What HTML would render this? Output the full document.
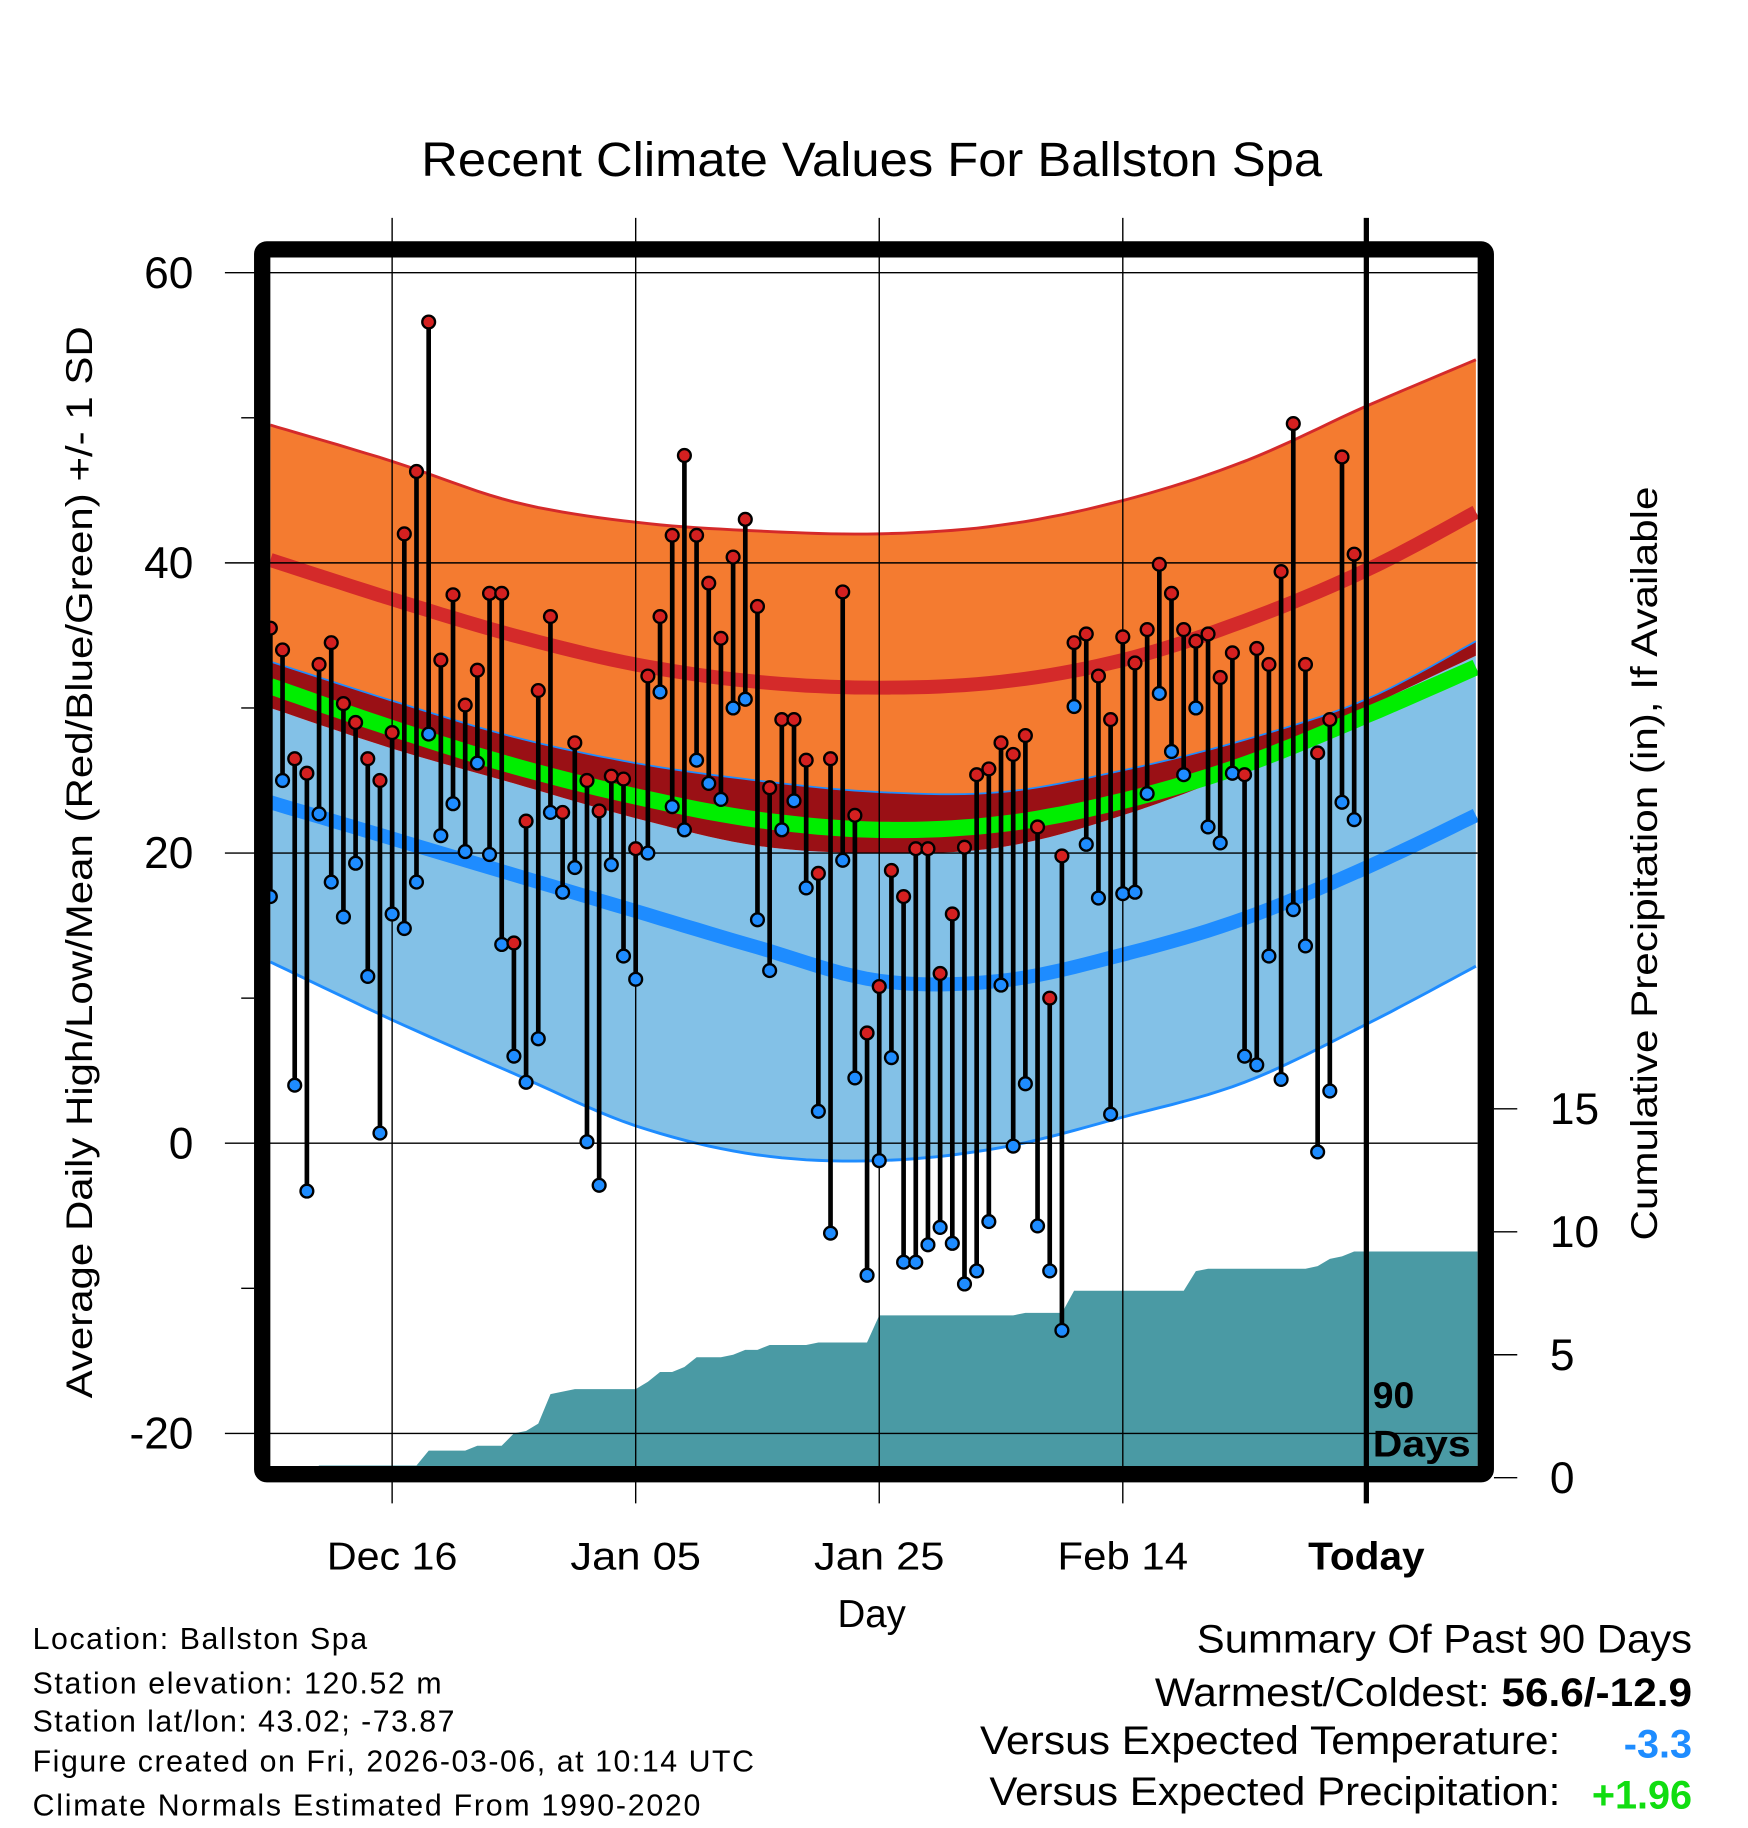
<!DOCTYPE html>
<html><head><meta charset="utf-8"><style>
html,body{margin:0;padding:0;background:#fff;}
svg{display:block;font-family:"Liberation Sans",Arial,sans-serif;}
</style></head><body>
<svg id="chart" width="1748" height="1828" viewBox="0 0 1500 1568.6" preserveAspectRatio="none" xmlns="http://www.w3.org/2000/svg">
<text x="748" y="151" font-size="41" text-anchor="middle" textLength="773" lengthAdjust="spacingAndGlyphs">Recent Climate Values For Ballston Spa</text>
<g id="layers"></g>
</svg>
<script>
// ---- data ----
const highs=[35.5,34,26.5,25.5,33,34.5,30.3,29,26.5,25,28.3,42,46.3,56.6,33.3,37.8,30.2,32.6,37.9,37.9,13.8,22.2,31.2,36.3,22.8,27.6,25,22.9,25.3,25.1,20.3,32.2,36.3,41.9,47.4,41.9,38.6,34.8,40.4,43,37,24.5,29.2,29.2,26.4,18.6,26.5,38,22.6,7.6,10.8,18.8,17,20.3,20.3,11.7,15.8,20.4,25.4,25.8,27.6,26.8,28.1,21.8,10,19.8,34.5,35.1,32.2,29.2,34.9,33.1,35.4,39.9,37.9,35.4,34.6,35.1,32.1,33.8,25.4,34.1,33,39.4,49.6,33,26.9,29.2,47.3,40.6];
const lows=[17,25,4,-3.3,22.7,18,15.6,19.3,11.5,0.7,15.8,14.8,18,28.2,21.2,23.4,20.1,26.2,19.9,13.7,6,4.2,7.2,22.8,17.3,19,0.1,-2.9,19.2,12.9,11.3,20,31.1,23.2,21.6,26.4,24.8,23.7,30,30.6,15.4,11.9,21.6,23.6,17.6,2.2,-6.2,19.5,4.5,-9.1,-1.2,5.9,-8.2,-8.2,-7,-5.8,-6.9,-9.7,-8.8,-5.4,10.9,-0.2,4.1,-5.7,-8.8,-12.9,30.1,20.6,16.9,2,17.2,17.3,24.1,31,27,25.4,30,21.8,20.7,25.5,6,5.4,12.9,4.4,16.1,13.6,-0.6,3.6,23.5,22.3];
const precip=[0,0,0,0,0.5,0.5,0.5,0.5,0.5,0.5,0.5,0.5,0.5,1.1,1.1,1.1,1.1,1.3,1.3,1.3,1.8,1.9,2.2,3.4,3.5,3.6,3.6,3.6,3.6,3.6,3.6,3.9,4.3,4.3,4.5,4.9,4.9,4.9,5.0,5.2,5.2,5.4,5.4,5.4,5.4,5.5,5.5,5.5,5.5,5.5,6.6,6.6,6.6,6.6,6.6,6.6,6.6,6.6,6.6,6.6,6.6,6.6,6.7,6.7,6.7,6.7,7.6,7.6,7.6,7.6,7.6,7.6,7.6,7.6,7.6,7.6,8.4,8.5,8.5,8.5,8.5,8.5,8.5,8.5,8.5,8.5,8.6,8.9,9.0,9.2];
const normDays=[0,10,20,30,40,50,60,70,80,90,99];
const highPlusSD=[49.5,47,44.2,42.8,42.2,42,42.6,44.3,47,50.8,54];
const highMean=[40.2,37.5,35,33,31.8,31.4,31.8,33.3,36,39.5,43.5];
const highMinusSD=[33.2,30.5,28,26.2,25,24.2,24.2,25.7,27.8,30.6,34.6];
const meanTemp=[31.5,28.6,26,23.9,22.3,21.6,22,23.6,26.1,29.5,32.8];
const lowPlusSD=[30,27.2,24.8,22.4,20.5,20,20.4,22.6,25.8,30,33.6];
const lowMean=[23.5,21,18.5,16,13.5,11.2,11.2,13,15.5,19,22.6];
const lowMinusSD=[12.5,8.5,4.8,1.2,-0.8,-1.2,-0.3,1.8,4.2,8.2,12.2];
const yTicks=[60,40,20,0,-20];
const yMinor=[50,30,10,-10];
const pTicks=[0,5,10,15];
const dateTicks=[10,30,50,70,90];
const dateLabels=["Dec 16","Jan 05","Jan 25","Feb 14","Today"];

// ---- axes ----
const X0=232, DX=10.45, PL=232, PR=1268, PT=221, PB=1259;
const x=d=>X0+d*DX;
const y=v=>981-v*12.45;
const yp=v=>1268-v*21.1;
const NS='http://www.w3.org/2000/svg';
const L=document.getElementById('layers');
function mk(tag,attrs,parent){const e=document.createElementNS(NS,tag);for(const k in attrs)e.setAttribute(k,attrs[k]);(parent||L).appendChild(e);return e;}

const defs=mk('defs',{});
const cp=mk('clipPath',{id:'pc'},defs);
mk('rect',{x:PL,y:PT,width:PR-PL,height:PB-PT},cp);
const G=mk('g',{'clip-path':'url(#pc)'});



function curvePts(arr){const p=normDays.map((d,i)=>[x(d),y(arr[i])]);
 const out=[];for(let i=0;i<p.length-1;i++){const p0=p[Math.max(0,i-1)],p1=p[i],p2=p[i+1],p3=p[Math.min(p.length-1,i+2)];
 for(let t=0;t<1;t+=0.1){const t2=t*t,t3=t2*t;
 out.push([0.5*(2*p1[0]+(-p0[0]+p2[0])*t+(2*p0[0]-5*p1[0]+4*p2[0]-p3[0])*t2+(-p0[0]+3*p1[0]-3*p2[0]+p3[0])*t3),
 0.5*(2*p1[1]+(-p0[1]+p2[1])*t+(2*p0[1]-5*p1[1]+4*p2[1]-p3[1])*t2+(-p0[1]+3*p1[1]-3*p2[1]+p3[1])*t3)]);}}
 out.push(p[p.length-1]);return out;}
const ps=a=>a.map(q=>q[0].toFixed(1)+','+q[1].toFixed(1)).join(' ');
function band(top,bot,fill,name){const t=curvePts(top),b=curvePts(bot).reverse();
 const e=mk('polygon',{points:ps(t.concat(b)),fill:fill},G);
 
 return e;}
function line(arr,color,w,name){const e=mk('polyline',{points:ps(curvePts(arr)),fill:'none',stroke:color,'stroke-width':w},G);
 
 return e;}

(function(){const pts=precip.map((v,i)=>[x(i),yp(v)]);pts.push([PR,yp(precip[precip.length-1])]);
 const all=[[x(0),yp(0)+20]].concat(pts).concat([[PR,yp(0)+20]]);
 const e=mk('polygon',{points:ps(all),fill:'#4a9aa4'},G);
 
 })();

band(highPlusSD,highMinusSD,'#f47b30','high-sd-band');
band(lowPlusSD,lowMinusSD,'#83c1e7','low-sd-band');
band(highMinusSD,lowPlusSD,'#9a1015','overlap-band');
line(highPlusSD,'#d42a2a',2.5,'high-plus-sd-line');
line(lowMinusSD,'#1e8cff',2.5,'low-minus-sd-line');
line(highMinusSD,'#1e8cff',1.5,'high-minus-sd-edge');
line(meanTemp,'#00ee00',14,'mean-temp-line');
line(highMean,'#d42a2a',12,'high-mean-line');
line(lowMean,'#1e8cff',12,'low-mean-line');

yTicks.forEach(v=>{const e=mk('line',{x1:193,x2:PR,y1:y(v),y2:y(v),stroke:'#000','stroke-width':1.2});
 
 
 const t=mk('text',{x:166,y:y(v)+13,'font-size':38,'text-anchor':'end'});t.textContent=v;
 
 });
yMinor.forEach(v=>{const e=mk('line',{x1:207,x2:218,y1:y(v),y2:y(v),stroke:'#000','stroke-width':1.2});
 
 });
dateTicks.forEach((d,i)=>{const e=mk('line',{x1:x(d),x2:x(d),y1:187,y2:1290,stroke:'#000','stroke-width':d===90?4.5:1.2});
 
 
 const t=mk('text',{x:x(d),y:1347,'font-size':33,'text-anchor':'middle','font-weight':d===90?'bold':'normal'});t.textContent=dateLabels[i];
 t.setAttribute('textLength',d===90?100:(i===3?112:112));
 t.setAttribute('lengthAdjust','spacingAndGlyphs');
 
 });
pTicks.forEach(v=>{const e=mk('line',{x1:1282,x2:1302,y1:yp(v),y2:yp(v),stroke:'#000','stroke-width':1.2});
 
 
 const t=mk('text',{x:1330,y:yp(v)+13,'font-size':38});t.textContent=v;
 
 });

highs.forEach((h,i)=>{const e=mk('line',{x1:x(i),x2:x(i),y1:y(h),y2:y(lows[i]),stroke:'#000','stroke-width':4});
 
 });
highs.forEach((h,i)=>{const a=mk('circle',{cx:x(i),cy:y(h),r:5.5,fill:'#d42020',stroke:'#000','stroke-width':2});
 
 
 const b=mk('circle',{cx:x(i),cy:y(lows[i]),r:5.5,fill:'#1e8cff',stroke:'#000','stroke-width':2});
 
 });

const fr=mk('rect',{x:225,y:214,width:1050,height:1051,fill:'none',stroke:'#000','stroke-width':14,rx:4});


const d1=mk('text',{x:1178,y:1208,'font-size':32,'font-weight':'bold'});d1.textContent='90';


const d2=mk('text',{x:1178,y:1250,'font-size':32,'font-weight':'bold','textLength':84,'lengthAdjust':'spacingAndGlyphs'});d2.textContent='Days';


</script>
<svg style="position:absolute;left:0;top:0" width="1748" height="1828" viewBox="0 0 1500 1568.6" preserveAspectRatio="none" xmlns="http://www.w3.org/2000/svg" font-family="Liberation Sans, Arial, sans-serif">
<text transform="translate(79,740) rotate(-90)" font-size="32" text-anchor="middle" textLength="920" lengthAdjust="spacingAndGlyphs">Average Daily High/Low/Mean (Red/Blue/Green) +/- 1 SD</text>
<text transform="translate(1422,741) rotate(-90)" font-size="32" text-anchor="middle" textLength="647" lengthAdjust="spacingAndGlyphs">Cumulative Precipitation (in), If Available</text>
<text x="748" y="1396" font-size="33" text-anchor="middle">Day</text>
<g font-size="26" lengthAdjust="spacingAndGlyphs">
<text x="28" y="1415" textLength="287">Location: Ballston Spa</text>
<text x="28" y="1453" textLength="351">Station elevation: 120.52 m</text>
<text x="28" y="1486" textLength="362">Station lat/lon: 43.02; -73.87</text>
<text x="28" y="1520" textLength="619">Figure created on Fri, 2026-03-06, at 10:14 UTC</text>
<text x="28" y="1558" textLength="573">Climate Normals Estimated From 1990-2020</text>
</g>
<g font-size="34">
<text x="1452" y="1418" text-anchor="end" textLength="425" lengthAdjust="spacingAndGlyphs">Summary Of Past 90 Days</text>
<text x="1452" y="1464" text-anchor="end" textLength="461" lengthAdjust="spacingAndGlyphs">Warmest/Coldest: <tspan font-weight="bold">56.6/-12.9</tspan></text>
<text x="1339" y="1505" text-anchor="end" textLength="498" lengthAdjust="spacingAndGlyphs">Versus Expected Temperature:</text>
<text x="1452" y="1508" text-anchor="end" font-weight="bold" fill="#1e8cff">-3.3</text>
<text x="1339" y="1549" text-anchor="end" textLength="490" lengthAdjust="spacingAndGlyphs">Versus Expected Precipitation:</text>
<text x="1452" y="1552" text-anchor="end" font-weight="bold" fill="#11dd11">+1.96</text>
</g>
</svg>
</body></html>
